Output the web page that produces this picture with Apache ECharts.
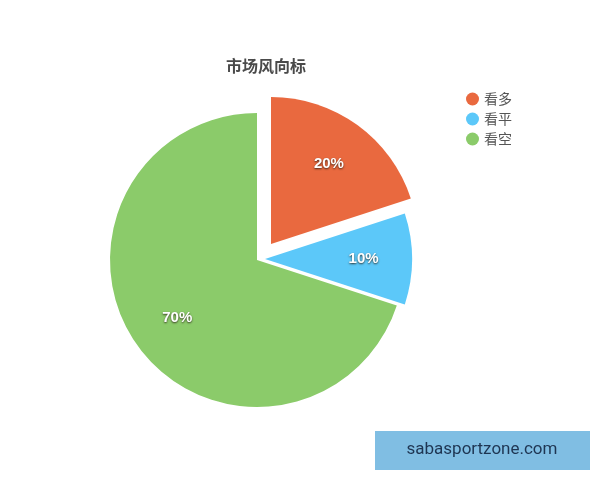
<!DOCTYPE html>
<html>
<head>
<meta charset="utf-8">
<script src="https://cdn.jsdelivr.net/npm/echarts@6/dist/echarts.min.js"></script>
<style>html,body{margin:0;padding:0;background:#fff}#c{width:600px;height:480px}</style>
</head>
<body>
<div id="c"></div>
<script>
const titleText = '市场风向标';
const categories = ['看多', '看平', '看空'];
const values = [20, 10, 70];
const labels = ['20%', '10%', '70%'];
const watermark = 'sabasportzone.com';

const colors = ['#E9693F', '#5CC8F9', '#8BCB6A'];
const centers = [[271, 244], [265, 259], [257, 260]];
const R = 147;

const chart = echarts.init(document.getElementById('c'));
const series = [];
categories.forEach((name, i) => {
  const mk = (showLabel) => categories.map((n, j) => ({
    name: n,
    value: values[j],
    itemStyle: { color: (j === i && !showLabel) ? colors[j] : 'rgba(0,0,0,0)' },
    label: { show: showLabel && j === i }
  }));
  series.push({
    type: 'pie', silent: true, center: centers[i], radius: [0, R],
    startAngle: 90, clockwise: true, avoidLabelOverlap: false,
    label: { show: false }, labelLine: { show: false },
    emphasis: { disabled: true },
    data: mk(false)
  });
  series.push({
    type: 'pie', silent: true, center: centers[i], radius: [0, R * 1.3],
    startAngle: 90, clockwise: true, avoidLabelOverlap: false,
    labelLine: { show: false }, emphasis: { disabled: true },
    label: {
      position: 'inside',
      formatter: (p) => labels[p.dataIndex],
      color: '#fff', fontSize: 15, fontWeight: 'bold',
      fontFamily: 'Liberation Sans, Arial, sans-serif',
      textShadowColor: 'rgba(40,30,20,0.85)', textShadowBlur: 2,
      textShadowOffsetX: 0, textShadowOffsetY: 1
    },
    data: mk(true)
  });
});

chart.setOption({
  animation: false,
  title: {
    text: titleText, left: 261, top: 53, textAlign: 'center',
    textStyle: { fontSize: 16, fontWeight: 'bold', color: '#4a4a4a', fontFamily: 'Noto Sans CJK SC' }
  },
  legend: {
    orient: 'vertical', left: 461, top: 87,
    icon: 'circle', itemWidth: 13, itemHeight: 13, itemGap: 6,
    textStyle: { fontSize: 14, color: '#555', fontFamily: 'Noto Sans CJK SC' },
    selectedMode: false,
    data: categories.map((n, i) => ({ name: n, itemStyle: { color: colors[i] } }))
  },
  graphic: [{
    type: 'rect', left: 375, top: 431, shape: { width: 215, height: 39 },
    style: { fill: '#80BEE3' }, z: 100
  }, {
    type: 'text', x: 482, y: 450, z: 101,
    style: { text: watermark, fill: '#1E3552', fontSize: 17, fontFamily: 'Roboto',
      align: 'center', verticalAlign: 'middle' }
  }],
  series: series
});
</script>
</body>
</html>
